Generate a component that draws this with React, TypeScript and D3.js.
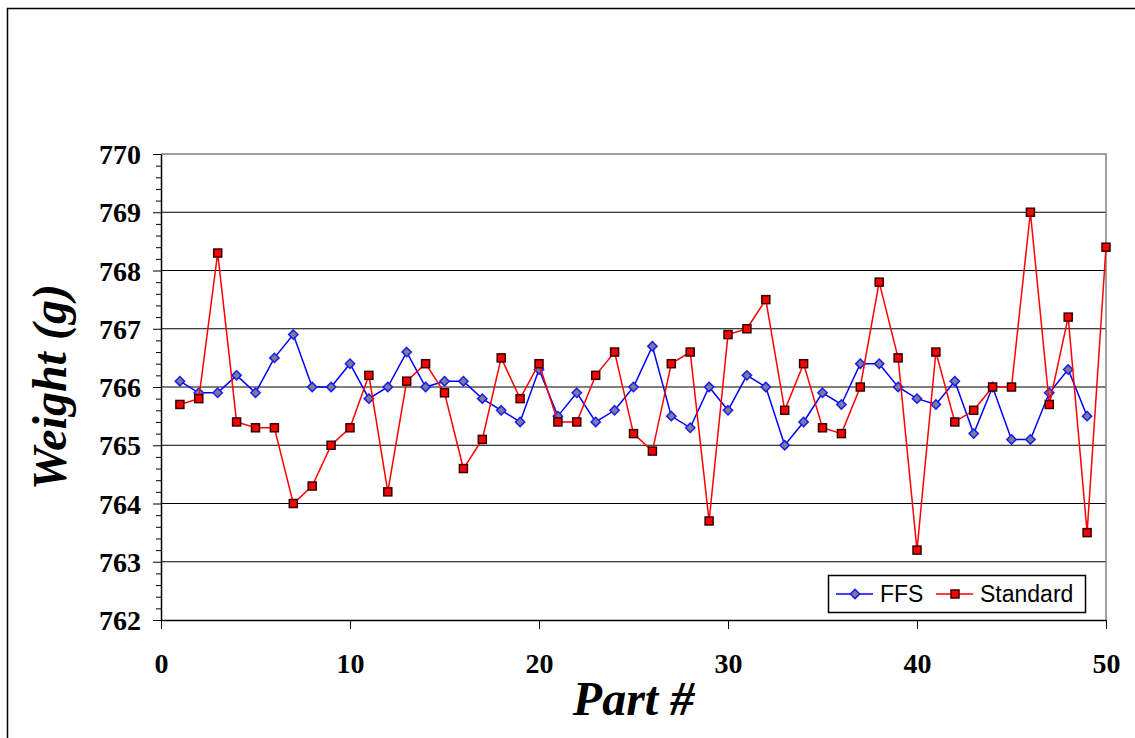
import React, { useEffect, useRef } from 'react';
import * as d3 from 'd3';

// Part numbers 1..50
const parts = [
  1, 2, 3, 4, 5, 6, 7, 8, 9, 10, 11, 12, 13, 14, 15, 16, 17, 18, 19, 20,
  21, 22, 23, 24, 25, 26, 27, 28, 29, 30, 31, 32, 33, 34, 35, 36, 37, 38, 39, 40,
  41, 42, 43, 44, 45, 46, 47, 48, 49, 50,
];

// FFS weights (part 1..49)
const ffsWeights = [
  766.1, 765.9, 765.9, 766.2, 765.9, 766.5, 766.9, 766.0, 766.0, 766.4,
  765.8, 766.0, 766.6, 766.0, 766.1, 766.1, 765.8, 765.6, 765.4, 766.3,
  765.5, 765.9, 765.4, 765.6, 766.0, 766.7, 765.5, 765.3, 766.0, 765.6,
  766.2, 766.0, 765.0, 765.4, 765.9, 765.7, 766.4, 766.4, 766.0, 765.8,
  765.7, 766.1, 765.2, 766.0, 765.1, 765.1, 765.9, 766.3, 765.5,
];

// Standard weights (part 1..50)
const standardWeights = [
  765.7, 765.8, 768.3, 765.4, 765.3, 765.3, 764.0, 764.3, 765.0, 765.3,
  766.2, 764.2, 766.1, 766.4, 765.9, 764.6, 765.1, 766.5, 765.8, 766.4,
  765.4, 765.4, 766.2, 766.6, 765.2, 764.9, 766.4, 766.6, 763.7, 766.9,
  767.0, 767.5, 765.6, 766.4, 765.3, 765.2, 766.0, 767.8, 766.5, 763.2,
  766.6, 765.4, 765.6, 766.0, 766.0, 769.0, 765.7, 767.2, 763.5, 768.4,
];

const xTicks = [0, 10, 20, 30, 40, 50];
const yTicks = [762, 763, 764, 765, 766, 767, 768, 769, 770];

const W = 1135;
const H = 738;

export default function App() {
  const svgRef = useRef<SVGSVGElement>(null);

  useEffect(() => {
    if (!svgRef.current) return;
    const svg = d3.select(svgRef.current);
    svg.selectAll('*').remove();

    const x = d3.scaleLinear().domain([0, 50]).range([161, 1106]);
    const y = d3.scaleLinear().domain([762, 770]).range([620, 154]);

    // outer frame (extends past the picture on right/bottom)
    svg.append('rect')
      .attr('x', 7.5).attr('y', 8.5)
      .attr('width', W + 20).attr('height', H + 20)
      .attr('fill', 'white').attr('stroke', '#000').attr('stroke-width', 1.5);

    // gridlines
    svg.append('g')
      .selectAll('line')
      .data(yTicks.filter(v => v > 762 && v < 770))
      .join('line')
      .attr('x1', x(0)).attr('x2', x(50))
      .attr('y1', d => y(d)).attr('y2', d => y(d))
      .attr('stroke', '#000').attr('stroke-width', 1);

    // plot border top/right
    svg.append('path')
      .attr('d', `M${x(0)},${y(770)}H${x(50)}V${y(762)}`)
      .attr('fill', 'none').attr('stroke', '#808080').attr('stroke-width', 1.5);

    const tickFont = '"Liberation Serif", "Times New Roman", serif';

    // y axis minor ticks
    const minor = d3.range(0, 41).map(i => 762 + i * 0.2).filter(v => Math.abs(v - Math.round(v)) > 0.01);
    svg.append('g')
      .attr('transform', `translate(${x(0)},0)`)
      .call(d3.axisLeft(y).tickValues(minor).tickSize(5).tickFormat(() => ''))
      .call(g => g.select('.domain').remove())
      .selectAll('line').attr('stroke', '#000');

    // y axis major
    const yAxis = svg.append('g')
      .attr('transform', `translate(${x(0)},0)`)
      .call(d3.axisLeft(y).tickValues(yTicks).tickSize(8).tickPadding(12).tickSizeOuter(0).tickFormat(d3.format('d')));
    yAxis.select('.domain').attr('stroke', '#000').attr('stroke-width', 1.5);
    yAxis.selectAll('line').attr('stroke', '#000');
    yAxis.selectAll('text')
      .attr('font-family', tickFont)
      .attr('font-weight', 'bold')
      .attr('font-size', 28)
      .attr('fill', '#000')
      .attr('dy', '0.34em');

    // x axis
    const xAxis = svg.append('g')
      .attr('transform', `translate(0,${y(762)})`)
      .call(d3.axisBottom(x).tickValues(xTicks).tickSize(9).tickPadding(24).tickSizeOuter(0).tickFormat(d3.format('d')));
    xAxis.select('.domain').attr('stroke', '#000').attr('stroke-width', 1.5);
    xAxis.selectAll('line').attr('stroke', '#000');
    xAxis.selectAll('text')
      .attr('font-family', tickFont)
      .attr('font-weight', 'bold')
      .attr('font-size', 28)
      .attr('fill', '#000');

    // axis titles
    svg.append('text')
      .attr('x', (x(0) + x(50)) / 2)
      .attr('y', 715)
      .attr('text-anchor', 'middle')
      .attr('font-family', tickFont)
      .attr('font-weight', 'bold')
      .attr('font-style', 'italic')
      .attr('font-size', 48)
      .text('Part #');

    svg.append('text')
      .attr('transform', `translate(66,${(y(762) + y(770)) / 2}) rotate(-90)`)
      .attr('text-anchor', 'middle')
      .attr('font-family', tickFont)
      .attr('font-weight', 'bold')
      .attr('font-style', 'italic')
      .attr('font-size', 48)
      .text('Weight (g)');

    const ffsData = ffsWeights.map((v, i) => [parts[i], v] as [number, number]);
    const stdData = standardWeights.map((v, i) => [parts[i], v] as [number, number]);
    const line = d3.line<[number, number]>().x(d => x(d[0])).y(d => y(d[1]));

    // FFS series
    svg.append('path')
      .attr('d', line(ffsData)!)
      .attr('fill', 'none').attr('stroke', '#0000ff').attr('stroke-width', 1.5);

    const diamond = d3.symbol().type(d3.symbolDiamond2).size(55);
    svg.append('g')
      .selectAll('path')
      .data(ffsData)
      .join('path')
      .attr('transform', d => `translate(${x(d[0])},${y(d[1])})`)
      .attr('d', diamond()!)
      .attr('fill', '#7a7f8f').attr('stroke', '#1a1aff').attr('stroke-width', 1.5);

    // Standard series
    svg.append('path')
      .attr('d', line(stdData)!)
      .attr('fill', 'none').attr('stroke', '#ff0000').attr('stroke-width', 1.5);

    const sq = 8;
    svg.append('g')
      .selectAll('rect')
      .data(stdData)
      .join('rect')
      .attr('x', d => x(d[0]) - sq / 2)
      .attr('y', d => y(d[1]) - sq / 2)
      .attr('width', sq).attr('height', sq)
      .attr('fill', '#ff0000').attr('stroke', '#300').attr('stroke-width', 1.5);

    // legend
    const lg = svg.append('g');
    lg.append('rect')
      .attr('x', 828.5).attr('y', 575.5).attr('width', 257).attr('height', 37)
      .attr('fill', 'white').attr('stroke', '#000').attr('stroke-width', 1.5);
    const legendFont = '"Liberation Sans", Arial, sans-serif';
    const ly = 594;
    lg.append('line').attr('x1', 836).attr('x2', 873).attr('y1', ly).attr('y2', ly)
      .attr('stroke', '#0000ff').attr('stroke-width', 1.5);
    lg.append('path').attr('transform', `translate(855,${ly})`).attr('d', diamond()!)
      .attr('fill', '#7a7f8f').attr('stroke', '#1a1aff').attr('stroke-width', 1.5);
    lg.append('text').attr('x', 880).attr('y', 602)
      .attr('font-family', legendFont).attr('font-size', 23).text('FFS');
    lg.append('line').attr('x1', 936).attr('x2', 973).attr('y1', ly).attr('y2', ly)
      .attr('stroke', '#ff0000').attr('stroke-width', 1.5);
    lg.append('rect').attr('x', 955 - sq / 2).attr('y', ly - sq / 2).attr('width', sq).attr('height', sq)
      .attr('fill', '#ff0000').attr('stroke', '#300').attr('stroke-width', 1.5);
    lg.append('text').attr('x', 980).attr('y', 602)
      .attr('font-family', legendFont).attr('font-size', 23).text('Standard');
  }, []);

  return (
    <svg
      ref={svgRef}
      width={W}
      height={H}
      style={{ position: 'absolute', left: 0, top: 0, background: 'white' }}
    />
  );
}
